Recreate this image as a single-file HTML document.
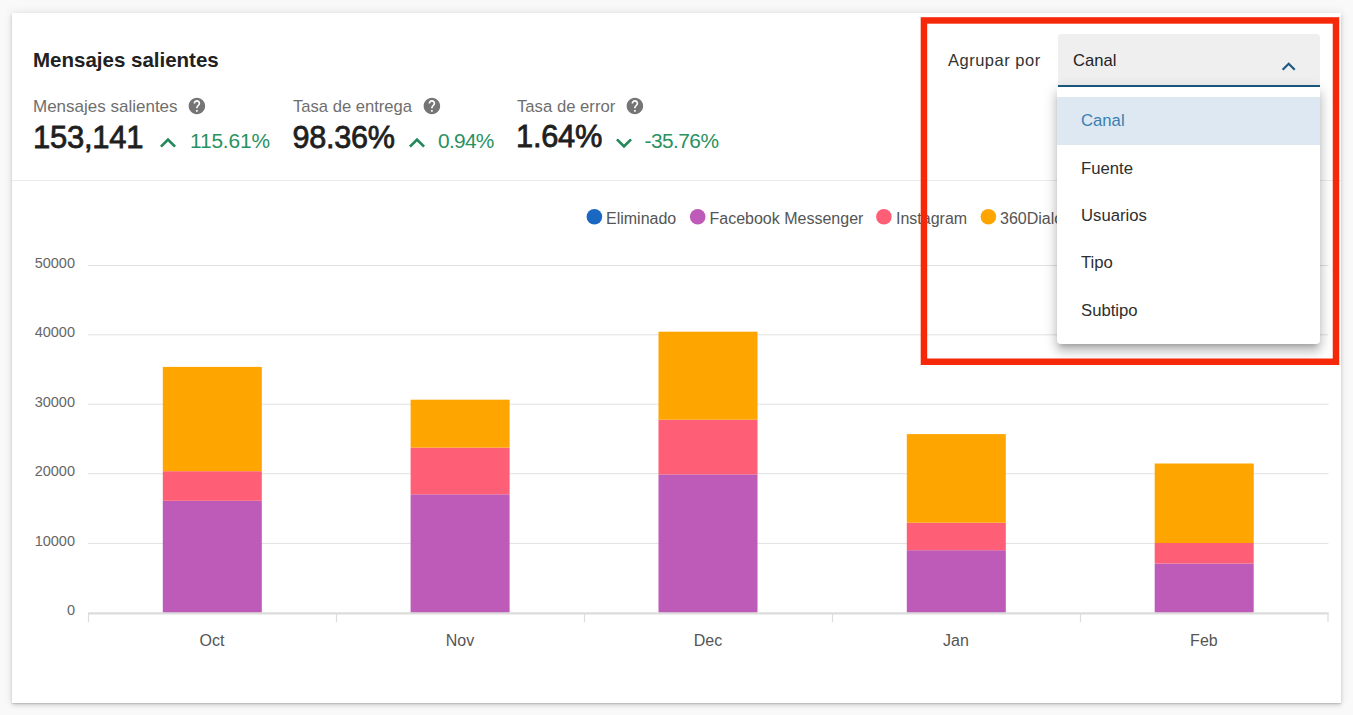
<!DOCTYPE html>
<html><head><meta charset="utf-8">
<style>
html,body{margin:0;padding:0;}
body{width:1353px;height:715px;background:#f9f9f9;position:relative;overflow:hidden;font-family:"Liberation Sans",sans-serif;}
.card{position:absolute;left:12px;top:13px;width:1329px;height:690px;background:#fff;box-shadow:0 2px 4px rgba(0,0,0,.14),0 0 9px rgba(0,0,0,.1),0 1px 1px rgba(0,0,0,.1);}
.t{position:absolute;white-space:nowrap;line-height:1;}
.title{left:33px;top:49.5px;font-size:20.5px;font-weight:bold;color:#212121;}
.lbl{font-size:17px;color:#6f6f6f;top:98.3px;}
.big{font-size:31px;color:#1f1f1f;top:121.6px;-webkit-text-stroke:0.8px #1f1f1f;letter-spacing:-0.25px;}
.pct{font-size:20.9px;color:#2a9160;top:130.6px;letter-spacing:-0.3px;}
.help{position:absolute;width:16px;height:16px;border-radius:50%;background:#757575;top:99.5px;}
.help:after{content:"?";position:absolute;left:0;top:1px;width:16px;text-align:center;color:#fff;font-weight:bold;font-size:12.5px;line-height:14px;}
.chev{position:absolute;}
.divider{position:absolute;left:12px;top:180px;width:1329px;height:1px;background:#ebebeb;}
.select{position:absolute;left:1058px;top:34px;width:262px;height:51px;background:#efefef;border-radius:4px 4px 0 0;border-bottom:2px solid #1d5a85;}
.menu{position:absolute;left:1057px;top:87px;width:263px;height:257px;background:#fff;border-radius:0 0 4px 4px;box-shadow:0 5px 5px -3px rgba(0,0,0,.2),0 8px 10px 1px rgba(0,0,0,.14),0 3px 14px 2px rgba(0,0,0,.12);}
.item{position:absolute;left:0;width:263px;height:47.3px;}
.item span{position:absolute;left:24px;top:16px;font-size:16.7px;color:#2e2e2e;line-height:1;}
.redbox{position:absolute;left:921px;top:17px;width:405px;height:335px;border:6.5px solid #f42b0d;}
</style></head><body>
<div class="card"></div>
<div class="divider"></div>

<div class="t title">Mensajes salientes</div>

<div class="t lbl" style="left:33px">Mensajes salientes</div>
<svg style="position:absolute;left:186.70px;top:96.2px" width="19.8" height="19.8" viewBox="0 0 24 24"><path fill="#757575" d="M12 2C6.48 2 2 6.48 2 12s4.48 10 10 10 10-4.48 10-10S17.52 2 12 2zm1 17h-2v-2h2v2zm2.07-7.75l-.9.92C13.45 12.9 13 13.5 13 15h-2v-.5c0-1.1.45-2.1 1.17-2.83l1.24-1.26c.37-.36.59-.86.59-1.41 0-1.1-.9-2-2-2s-2 .9-2 2H8c0-2.21 1.79-4 4-4s4 1.79 4 4c0 .88-.36 1.68-.93 2.25z"/></svg>
<div class="t big" style="left:33px">153,141</div>
<svg style="position:absolute;left:152.10px;top:126.70px" width="32" height="32" viewBox="0 0 24 24"><path fill="#22885a" d="M12 8l-6 6 1.41 1.41L12 10.83l4.59 4.58L18 14z"/></svg>
<div class="t pct" style="left:190px;letter-spacing:-0.15px">115.61%</div>

<div class="t lbl" style="left:293px;font-size:16.6px;top:99.3px">Tasa de entrega</div>
<svg style="position:absolute;left:421.60px;top:96.2px" width="19.8" height="19.8" viewBox="0 0 24 24"><path fill="#757575" d="M12 2C6.48 2 2 6.48 2 12s4.48 10 10 10 10-4.48 10-10S17.52 2 12 2zm1 17h-2v-2h2v2zm2.07-7.75l-.9.92C13.45 12.9 13 13.5 13 15h-2v-.5c0-1.1.45-2.1 1.17-2.83l1.24-1.26c.37-.36.59-.86.59-1.41 0-1.1-.9-2-2-2s-2 .9-2 2H8c0-2.21 1.79-4 4-4s4 1.79 4 4c0 .88-.36 1.68-.93 2.25z"/></svg>
<div class="t big" style="left:292.5px;font-size:30.6px;top:122.2px">98.36%</div>
<svg style="position:absolute;left:400.50px;top:126.70px" width="32" height="32" viewBox="0 0 24 24"><path fill="#22885a" d="M12 8l-6 6 1.41 1.41L12 10.83l4.59 4.58L18 14z"/></svg>
<div class="t pct" style="left:438px;letter-spacing:-0.7px">0.94%</div>

<div class="t lbl" style="left:517px;font-size:16.7px;top:99.3px">Tasa de error</div>
<svg style="position:absolute;left:624.50px;top:96.2px" width="19.8" height="19.8" viewBox="0 0 24 24"><path fill="#757575" d="M12 2C6.48 2 2 6.48 2 12s4.48 10 10 10 10-4.48 10-10S17.52 2 12 2zm1 17h-2v-2h2v2zm2.07-7.75l-.9.92C13.45 12.9 13 13.5 13 15h-2v-.5c0-1.1.45-2.1 1.17-2.83l1.24-1.26c.37-.36.59-.86.59-1.41 0-1.1-.9-2-2-2s-2 .9-2 2H8c0-2.21 1.79-4 4-4s4 1.79 4 4c0 .88-.36 1.68-.93 2.25z"/></svg>
<div class="t big" style="left:516px;font-size:30.8px;top:121.8px">1.64%</div>
<svg style="position:absolute;left:607.55px;top:126.95px" width="32" height="32" viewBox="0 0 24 24"><path fill="#22885a" d="M16.59 8.59L12 13.17 7.41 8.59 6 10l6 6 6-6z"/></svg>
<div class="t pct" style="left:644.5px;letter-spacing:-0.55px">-35.76%</div>

<!-- CHART -->
<svg style="position:absolute;left:0;top:0" width="1353" height="715" viewBox="0 0 1353 715" font-family="Liberation Sans, sans-serif">
  <g stroke="#e1e1e1" stroke-width="1">
    <line x1="88" y1="543.4" x2="1328.5" y2="543.4"/>
    <line x1="88" y1="473.7" x2="1328.5" y2="473.7"/>
    <line x1="88" y1="404.2" x2="1328.5" y2="404.2"/>
    <line x1="88" y1="334.8" x2="1328.5" y2="334.8"/>
    <line x1="88" y1="265.5" x2="1328.5" y2="265.5"/>
  </g>
  <g fill="#666" font-size="14.5" text-anchor="end">
    <text x="75" y="614.8">0</text>
    <text x="75" y="545.5">10000</text>
    <text x="75" y="476">20000</text>
    <text x="75" y="406.5">30000</text>
    <text x="75" y="337">40000</text>
    <text x="75" y="268">50000</text>
  </g>
  <g>
    <!-- Oct -->
    <rect x="162.8" y="500.8" width="99" height="112.2" fill="#be5ab7"/>
    <rect x="162.8" y="471.2" width="99" height="29.6" fill="#fe5e76"/>
    <rect x="162.8" y="366.9" width="99" height="104.3" fill="#ffa500"/>
    <!-- Nov -->
    <rect x="410.6" y="494.3" width="99" height="118.7" fill="#be5ab7"/>
    <rect x="410.6" y="447.6" width="99" height="46.7" fill="#fe5e76"/>
    <rect x="410.6" y="399.7" width="99" height="47.9" fill="#ffa500"/>
    <!-- Dec -->
    <rect x="658.5" y="474.4" width="99" height="138.6" fill="#be5ab7"/>
    <rect x="658.5" y="419.7" width="99" height="54.7" fill="#fe5e76"/>
    <rect x="658.5" y="331.7" width="99" height="88" fill="#ffa500"/>
    <!-- Jan -->
    <rect x="906.8" y="550.2" width="99" height="62.8" fill="#be5ab7"/>
    <rect x="906.8" y="522.7" width="99" height="27.5" fill="#fe5e76"/>
    <rect x="906.8" y="434.1" width="99" height="88.6" fill="#ffa500"/>
    <!-- Feb -->
    <rect x="1154.7" y="563.5" width="99" height="49.5" fill="#be5ab7"/>
    <rect x="1154.7" y="543" width="99" height="20.5" fill="#fe5e76"/>
    <rect x="1154.7" y="463.5" width="99" height="79.5" fill="#ffa500"/>
  </g>
  <g stroke="#dcdcdc">
    <line x1="88" y1="613.4" x2="1328.5" y2="613.4" stroke-width="2.4"/>
    <line x1="88.5" y1="613" x2="88.5" y2="622" stroke-width="1.2"/>
    <line x1="336.5" y1="613" x2="336.5" y2="622" stroke-width="1.2"/>
    <line x1="584.5" y1="613" x2="584.5" y2="622" stroke-width="1.2"/>
    <line x1="832.5" y1="613" x2="832.5" y2="622" stroke-width="1.2"/>
    <line x1="1080.5" y1="613" x2="1080.5" y2="622" stroke-width="1.2"/>
    <line x1="1328" y1="613" x2="1328" y2="622" stroke-width="1.2"/>
  </g>
  <g fill="#555" font-size="16" text-anchor="middle">
    <text x="211.9" y="646">Oct</text>
    <text x="459.9" y="646">Nov</text>
    <text x="707.9" y="646">Dec</text>
    <text x="955.9" y="646">Jan</text>
    <text x="1203.9" y="646">Feb</text>
  </g>
  <g font-size="16" fill="#555">
    <circle cx="594.4" cy="216.8" r="7.8" fill="#1a68c2"/>
    <text x="606" y="223.9">Eliminado</text>
    <circle cx="697.7" cy="216.8" r="7.8" fill="#be5ab7"/>
    <text x="709.5" y="223.9">Facebook Messenger</text>
    <circle cx="883.9" cy="216.8" r="7.8" fill="#fe5e76"/>
    <text x="896" y="223.9">Instagram</text>
    <circle cx="988.4" cy="216.8" r="7.8" fill="#ffa500"/>
    <text x="1000" y="223.9">360Dialog</text>
  </g>
</svg>

<div class="t" style="left:948px;top:52.4px;font-size:16.5px;letter-spacing:0.5px;color:#333">Agrupar por</div>
<div class="select"></div>
<div class="t" style="left:1073px;top:53px;font-size:16.6px;color:#222">Canal</div>
<svg style="position:absolute;left:1274.85px;top:53.10px" width="27.4" height="27.4" viewBox="0 0 24 24"><path fill="#1d5a85" d="M12 8l-6 6 1.41 1.41L12 10.83l4.59 4.58L18 14z"/></svg>

<div class="menu">
  <div class="item" style="top:10.3px;background:#dde8f2"><span style="color:#3a7fb0">Canal</span></div>
  <div class="item" style="top:57.6px"><span>Fuente</span></div>
  <div class="item" style="top:104.9px"><span>Usuarios</span></div>
  <div class="item" style="top:152.2px"><span>Tipo</span></div>
  <div class="item" style="top:199.5px"><span>Subtipo</span></div>
</div>

<svg style="position:absolute;left:0;top:0" width="1353" height="715"><rect x="923.95" y="20.45" width="412.05" height="341.3" fill="none" stroke="#f5290a" stroke-width="6.5"/></svg>
</body></html>
